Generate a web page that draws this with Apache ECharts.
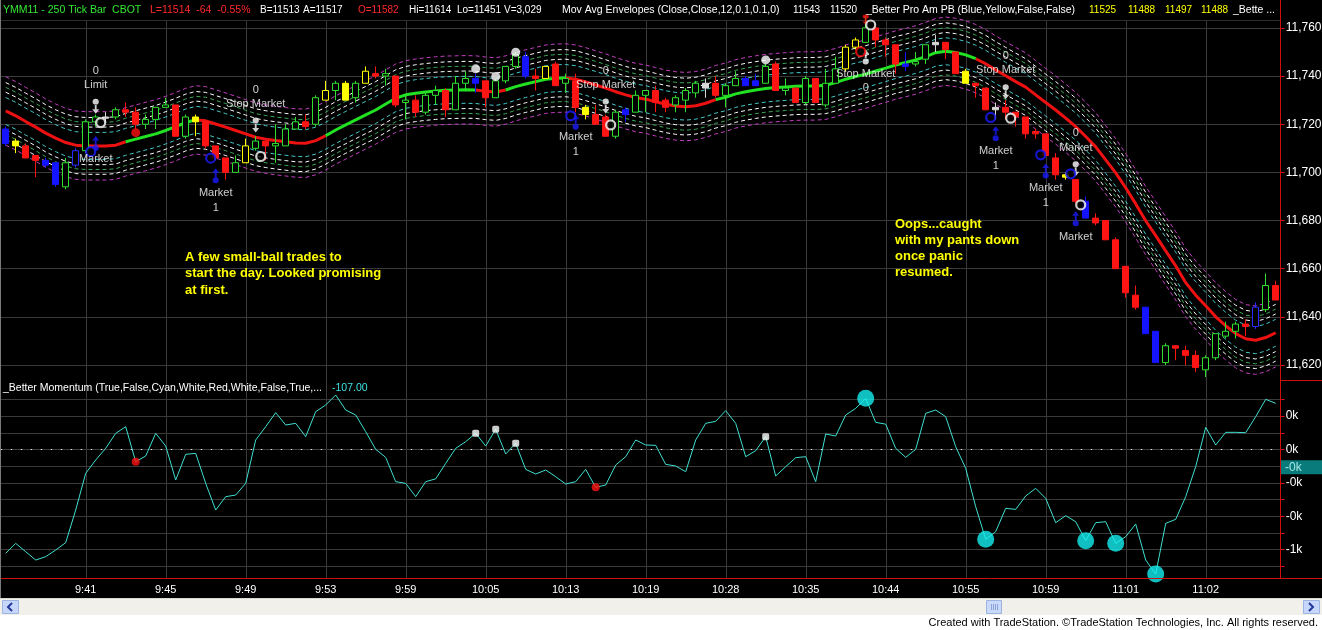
<!DOCTYPE html>
<html>
<head>
<meta charset="utf-8">
<title>YMM11 - 250 Tick Bar</title>
<script src="https://cdn.jsdelivr.net/npm/echarts@6.0.0/dist/echarts.min.js"></script>
<style>
html,body{margin:0;padding:0;background:#000;overflow:hidden;}
#chart{width:1322px;height:630px;}
</style>
</head>
<body>
<div id="chart"></div>
<script>
// ---------------- DATA ----------------
const timeLabels = ['9:41','9:45','9:49','9:53','9:59','10:05','10:13','10:19','10:28','10:35','10:44','10:55','10:59','11:01','11:02'];
const firstLabelBar = 8;
const barsPerLabel = 8;

const opens = [
 11718,11713,11711,11707,11705,11704,11694,11703,11709,11721,
 11723,11723,11726,11725,11720,11722,11727,11728,11715,11723,
 11721,11711,11706,11700,11704,11710,11713,11711,11711,11718,
 11721,11720,11730,11734,11737,11731,11737,11741,11740,11740,
 11729,11730,11725,11732,11734,11726,11737,11739,11738,11731,
 11738,11744,11748,11740,11739,11745,11737,11738,11727,11724,
 11723,11715,11726,11725,11732,11734,11730,11728,11730,11733,
 11737,11737,11732,11736,11739,11738,11737,11745,11734,11735,
 11729,11739,11728,11737,11743,11752,11754,11760,11755,11753,
 11745,11745,11747,11754,11754,11750,11742,11737,11735,11727,
 11727,11725,11723,11717,11716,11706,11699,11697,11688,11681,
 11680,11672,11661,11649,11644,11634,11621,11628,11626,11624,
 11618,11623,11632,11634,11637,11636,11643,11653];
const closes = [
 11712,11711,11706,11705,11703,11695,11704,11709,11721,11723,
 11722.5,11726,11725,11720,11722,11727,11728,11715,11723,11721,
 11711,11706,11700,11704,11711,11713,11711,11712,11718,11721,
 11719,11731,11734,11737,11730,11737,11742,11740,11741,11728,
 11730,11725,11732,11734,11726,11737,11739,11737,11731,11738,
 11744,11749,11740,11739,11744,11736,11739,11727,11724,11720,
 11715,11725,11724,11732,11734,11729,11727,11731,11734,11737,
 11735,11732,11736,11739,11736,11736,11744,11734,11735,11729,
 11739,11729,11737,11743,11752,11755,11760,11755,11753,11745,
 11744,11746,11753,11753,11751,11741,11737,11736,11726,11726,
 11725,11723,11716,11716,11707,11699,11698,11688,11681,11679,
 11672,11660,11650,11644,11633,11621,11628,11627,11624,11619,
 11623,11633,11634,11637,11636,11644,11653,11647];
const lows = [
 11711,11708,11706,11698,11702,11694,11693,11702,11708,11719,
 11721,11722,11723,11718,11718,11718,11727,11715,11714,11715,
 11710,11705,11697,11700,11704,11709,11705,11704,11711,11718,
 11718,11719,11730,11730,11730,11729,11737,11739,11736,11727,
 11722,11723,11724,11728,11723,11726,11734,11733,11727,11731,
 11737,11743,11739,11734,11739,11736,11733,11725,11722,11720,
 11715,11714,11721,11725,11725,11725,11725,11725,11725,11731,
 11731,11731,11727,11736,11736,11736,11737,11734,11732,11729,
 11728,11729,11727,11737,11742,11751,11754,11752,11748,11741,
 11742,11744,11745,11750,11747,11741,11737,11731,11726,11722,
 11722,11719,11714,11714,11707,11697,11697,11687,11681,11678,
 11672,11660,11648,11643,11633,11621,11620,11622,11620,11617,
 11615,11622,11631,11631,11632,11635,11642,11647];
const highs = [
 11719,11714,11712,11707,11706,11704,11706,11710,11722,11724,
 11725,11727,11729,11727,11724,11727,11731,11728,11724,11724,
 11721,11711,11706,11707,11714,11715,11713,11720,11720,11723,
 11724,11732,11738,11738,11738,11738,11744,11744,11743,11740,
 11732,11732,11733,11736,11735,11740,11742,11741,11738,11739,
 11744,11750,11750,11743,11744,11746,11741,11741,11728,11728,
 11724,11726,11727,11734,11734,11736,11731,11732,11735,11738,
 11739,11740,11737,11742,11740,11741,11745,11746,11739,11735,
 11740,11739,11743,11748,11753,11756,11765,11760,11756,11753,
 11750,11750,11753,11757,11754,11750,11743,11737,11735,11729,
 11730,11725,11723,11718,11716,11708,11700,11697,11690,11683,
 11680,11673,11661,11653,11644,11634,11629,11628,11628,11626,
 11624,11633,11638,11638,11639,11646,11658,11655];
// paint-bar class of each bar: g up, r down, b blue, bh blue hollow, y yellow, yh yellow hollow, w neutral cross
const paint = (
 'b y r r b b g bh g g ' +
 'w g r r g g g r g y ' +
 'r r r g yh g r g g g ' +
 'r g yh g y g yh r g r ' +
 'g r g g r g g b r g ' +
 'g g b r yh r g r y r ' +
 'r g b g g r r g g g ' +
 'w r g g b b g r g r ' +
 'g r g g yh yh g r r r ' +
 'b g g w r r y r r w ' +
 'r r r r r r y r b r ' +
 'r r r r b b g r r r ' +
 'g g g g r bh g r').split(' ');

const maLine = [
 11725.5,11723.5,11721.1,11718.8,11716.3,11714.2,11712.4,11711.3,11711.0,11711.0,
 11711.0,11711.3,11712.7,11713.8,11714.9,11716.0,11717.4,11719.0,11720.7,11721.8,
 11721.4,11720.1,11718.8,11717.4,11716.0,11714.6,11713.8,11713.2,11712.7,11712.2,
 11712.1,11713.2,11715.2,11717.6,11719.7,11721.8,11723.9,11725.9,11728.4,11730.8,
 11732.2,11732.9,11733.4,11733.8,11734.1,11734.2,11734.3,11734.2,11733.7,11733.4,
 11734.2,11735.6,11736.7,11737.7,11738.7,11739.1,11739.2,11738.7,11737.6,11736.3,
 11735.0,11733.5,11732.2,11731.1,11730.4,11729.3,11728.3,11727.6,11727.3,11727.7,
 11728.7,11730.2,11731.2,11732.6,11733.5,11734.2,11734.8,11735.2,11735.5,11735.8,
 11735.9,11735.9,11736.2,11737.3,11738.7,11739.8,11740.8,11742.1,11743.3,11744.6,
 11745.6,11746.7,11748.1,11749.7,11750.3,11749.8,11748.8,11747.2,11745.1,11742.5,
 11740.1,11737.7,11735.4,11732.2,11729.0,11725.9,11722.5,11719.0,11714.9,11710.6,
 11705.2,11699.8,11693.6,11686.9,11679.9,11673.7,11667.4,11661.2,11654.2,11649.0,
 11644.6,11640.0,11636.3,11633.0,11630.9,11630.3,11631.4,11633.4];
const maGreenRanges = [[12,19],[32,47],[50,56],[71,97]];
const envOffsets = [5.6, 7.8, 9.8, 11.8, 14.2];

const momentum = [
 -623,-563,-613,-663,-643,-603,-559,-363,-143,-63,
 7,97,137,-73,-39,97,21,-183,-29,-23,
 -203,-363,-283,-273,-203,57,137,221,147,157,
 77,227,267,327,237,207,107,1,-47,-193,
 -203,-283,-193,-176,-83,7,47,97,21,121,
 -27,37,-119,-147,-123,-163,-207,-193,-119,-227,
 -213,-93,-43,57,27,25,-89,-99,-133,57,
 157,169,233,157,-43,-7,77,-159,-103,-49,
 -43,-193,93,81,207,247,307,163,152,7,
 -47,1,217,237,197,17,-113,-343,-539,-493,
 -353,-359,-279,-233,-293,-439,-397,-433,-547,-439,
 -433,-563,-523,-447,-663,-747,-443,-419,-283,-103,
 133,27,103,103,101,197,301,277];
const momCurrent = -107;
const momLabelValues = [200, 0, -200, -400, -600];
const momWhiteDots = [47, 49, 51, 76];
const momRedDots = [13, 59];
const momCyanDots = [86, 98, 108, 111, 115];

const priceWhiteDots = [[47,11743],[49,11739.8],[51,11749.9],[76,11746.7]];
const priceRedDots = [[13,11716.5]];
const entryPins = [[9,11712.0],[21,11698.6],[57,11720.8],[99,11716.0],[104,11700.6],[107,11680.7]];
const exitPins = [[9,11727.5],[25,11719.7],[60,11727.6],[100,11733.5],[107,11701.5]];
const coverPins = [[86,11747.9]];
const shortPins = [[86,11763.5]];
const entryRings = [[9,11708.6],[21,11705.9],[57,11723.5],[99,11722.8],[104,11707.3],[107,11699.4]];
const exitRings = [[9,11720.7],[25,11706.6],[60,11719.7],[86,11761.2],[100,11722.5],[107,11686.5]];
const shortRings = [[86,11750.1]];
const tradeTexts = [
 [9,11742.1,'0'],[9,11736.3,'Limit'],[9,11705.6,'Market'],
 [25,11734.2,'0'],[25,11728.4,'Stop Market'],
 [21,11691.5,'Market'],[21,11685.3,'1'],
 [60,11742.1,'0'],[60,11736.3,'Stop Market'],
 [57,11714.7,'Market'],[57,11708.5,'1'],
 [86,11740.9,'Stop Market'],[86,11735.1,'0'],
 [100,11748.4,'0'],[100,11742.5,'Stop Market'],
 [99,11708.9,'Market'],[99,11702.7,'1'],
 [104,11693.6,'Market'],[104,11687.4,'1'],
 [107,11716.4,'0'],[107,11710.2,'Market'],
 [107,11673.2,'Market']
];
const headerParts = [
 ['YMM11 - 250 Tick Bar  CBOT','green'],['L=11514  -64  -0.55%','red'],['B=11513','white'],['A=11517','white'],
 ['O=11582','red'],['Hi=11614','white'],['Lo=11451','white'],['V=3,029','white'],
 ['Mov Avg Envelopes (Close,Close,12,0.1,0.1,0)','white'],['11543','white'],['11520','white'],
 ['_Better Pro Am PB (Blue,Yellow,False,False)','white'],['11525','yellow'],['11488','yellow'],['11497','yellow'],['11488','yellow'],
 ['_Bette ...','white']
];
const momTitle = '_Better Momentum (True,False,Cyan,White,Red,White,False,True,...';
const momTitleValue = '-107.00';
const noteLeft = ['A few small-ball trades to','start the day. Looked promising','at first.'];
const noteRight = ['Oops...caught','with my pants down','once panic','resumed.'];
const footer = 'Created with TradeStation. \u00A9TradeStation Technologies, Inc. All rights reserved.';

// ---------------- STYLE / LAYOUT ----------------
const FONT = '"Liberation Sans", Arial, Helvetica, sans-serif';
const headerX = [3,150,260,303,358,409,457,504,562,793,830,866,1089,1128,1165,1201,1233];
const headerSize = [10.5,10.5,10,10,10,10,10,10,10.5,10,10,10.5,10,10,10,10,10.5];
const headerColors = {green:'#35e835', red:'#ff2a2a', white:'#ffffff', yellow:'#ffff00'};
const GRIDC = '#3a3a3a';
const paintStyles = {
  g:  {color:'#000000', color0:'#000000', borderColor:'#2fe02f', borderColor0:'#2fe02f'},
  r:  {color:'#ff1414', color0:'#ff1414', borderColor:'#ff1414', borderColor0:'#ff1414'},
  b:  {color:'#1414ff', color0:'#1414ff', borderColor:'#1414ff', borderColor0:'#1414ff'},
  bh: {color:'#000000', color0:'#000000', borderColor:'#2a2aff', borderColor0:'#2a2aff'},
  y:  {color:'#ffff00', color0:'#ffff00', borderColor:'#ffff00', borderColor0:'#ffff00'},
  yh: {color:'#000000', color0:'#000000', borderColor:'#ffff00', borderColor0:'#ffff00'},
  w:  {color:'#d8d8d8', color0:'#d8d8d8', borderColor:'#d8d8d8', borderColor0:'#d8d8d8'}
};
const envColors = ['#45c9c9','#ffffff','#3aa856','#ffffff','#c23fc2'];
const PIN_UP = 'path://M5,0L9.5,6L6.2,6L6.2,12.5L3.8,12.5L3.8,6L0.5,6Z M1,16A4,4,0,1,0,9,16A4,4,0,1,0,1,16Z';
const PIN_DOWN = 'path://M1,4A4,4,0,1,0,9,4A4,4,0,1,0,1,4Z M3.8,7.5L6.2,7.5L6.2,14L9.5,14L5,20L0.5,14L3.8,14Z';

const cats = opens.map((_, i) => String(i));
const isLabelBar = i => i >= firstLabelBar && (i - firstLabelBar) % barsPerLabel === 0;
const fmtK = v => (v < 0 ? '-' + Math.round(-v / 1000) : String(Math.round(v / 1000))) + 'k';

const candleData = opens.map((o, i) => ({value: [o, closes[i], lows[i], highs[i]], itemStyle: paintStyles[paint[i]]}));
const inGreen = i => maGreenRanges.some(([a, b]) => i >= a && i <= b);
const insideGreen = i => maGreenRanges.some(([a, b]) => i > a && i < b);
const maGreen = maLine.map((v, i) => inGreen(i) ? v : null);
const maRed = maLine.map((v, i) => insideGreen(i) ? null : v);

const envSeries = [];
envOffsets.forEach((off, k) => {
  [1, -1].forEach(sign => {
    envSeries.push({
      type:'line', xAxisIndex:0, yAxisIndex:0, silent:true, clip:false, z:2,
      data: maLine.map(v => +(v + sign * off).toFixed(2)),
      symbol:'none', lineStyle:{color:envColors[k], width:1, type:[4,3]}, emphasis:{disabled:true}
    });
  });
});

function scatter(data, symbol, size, itemStyle, extra) {
  return Object.assign({
    type:'scatter', xAxisIndex:0, yAxisIndex:0, silent:true, clip:false, z:6,
    data, symbol, symbolSize:size, itemStyle, emphasis:{disabled:true}
  }, extra || {});
}

const option = {
  backgroundColor:'#000000',
  animation:false,
  textStyle:{fontFamily:FONT},
  grid:[
    {left:0.7, right:41.3, top:27.9, bottom:265, containLabel:false, outerBoundsMode:'none'},
    {left:0.7, right:41.3, top:399.5, bottom:63.8, containLabel:false, outerBoundsMode:'none'}
  ],
  xAxis:[
    {type:'category', gridIndex:0, data:cats, boundaryGap:true,
     axisLine:{show:false}, axisTick:{show:false}, axisLabel:{show:false}, splitLine:{show:false}},
    {type:'category', gridIndex:1, data:cats, boundaryGap:true,
     axisLine:{show:false}, axisTick:{show:false}, splitLine:{show:false},
     axisLabel:{show:true, interval:(idx) => isLabelBar(idx), margin:18, color:'#ffffff', fontSize:11, fontFamily:FONT,
       formatter:(val) => { const i = Number(val); return isLabelBar(i) ? timeLabels[(i - firstLabelBar) / barsPerLabel] : ''; }}}
  ],
  yAxis:[
    {type:'value', gridIndex:0, position:'right', min:11620, max:11760, interval:20,
     axisLine:{show:false}, axisTick:{show:true, length:4, lineStyle:{color:'#d01010'}},
     axisLabel:{color:'#ffffff', fontSize:12, margin:5, fontFamily:FONT, formatter:v => v.toLocaleString('en-US')},
     splitLine:{show:true, lineStyle:{color:GRIDC, width:1}}},
    {type:'value', gridIndex:1, position:'right', min:-700, max:300, interval:100,
     axisLine:{show:false}, axisTick:{show:true, length:4, lineStyle:{color:'#d01010'}},
     axisLabel:{color:'#ffffff', fontSize:12, margin:5, fontFamily:FONT,
       formatter:v => momLabelValues.includes(v) ? fmtK(v) : ''},
     splitLine:{show:true, lineStyle:{color:GRIDC, width:1}}}
  ],
  series:[
    ...envSeries,
    {type:'line', xAxisIndex:0, yAxisIndex:0, data:maRed, symbol:'none', silent:true, clip:false, z:3,
     connectNulls:false, lineStyle:{color:'#ee1111', width:3}, emphasis:{disabled:true}},
    {type:'line', xAxisIndex:0, yAxisIndex:0, data:maGreen, symbol:'none', silent:true, clip:false, z:3,
     connectNulls:false, lineStyle:{color:'#22e022', width:3}, emphasis:{disabled:true}},
    {type:'candlestick', xAxisIndex:0, yAxisIndex:0, data:candleData, barWidth:7, clip:false, silent:true, z:4,
     itemStyle:{borderWidth:1}, emphasis:{disabled:true}},
    scatter(priceWhiteDots, 'circle', 9, {color:'#ffffff'}),
    scatter(priceRedDots, 'circle', 9, {color:'#ff1010'}),
    scatter(entryPins, PIN_UP, [7,15], {color:'#1a1aff'}),
    scatter(exitPins, PIN_DOWN, [7,15], {color:'#ffffff'}),
    scatter(coverPins, PIN_UP, [7,15], {color:'#ffffff'}),
    scatter(shortPins, PIN_DOWN, [7,10], {color:'#ff1010'}),
    scatter(entryRings, 'circle', 9, {color:'#000000', borderColor:'#1a1aff', borderWidth:2.2}, {symbolOffset:[-5,0]}),
    scatter(exitRings, 'circle', 9, {color:'#000000', borderColor:'#ffffff', borderWidth:2.2}, {symbolOffset:[5,0]}),
    scatter(shortRings, 'circle', 9, {color:'#000000', borderColor:'#ff1010', borderWidth:2.2}, {symbolOffset:[-5,0]}),
    scatter(tradeTexts.map(t => [t[0], t[1], t[2]]), 'circle', 1, {color:'rgba(0,0,0,0)'},
      {z:7, label:{show:true, position:'inside', formatter:p => p.data[2], color:'#ffffff', fontSize:11, fontFamily:FONT}}),
    {type:'line', xAxisIndex:1, yAxisIndex:1, data:momentum, symbol:'none', silent:true, clip:false, z:3,
     lineStyle:{color:'#3fe0d0', width:1}, emphasis:{disabled:true},
     markLine:{silent:true, symbol:['none','none'], animation:false, data:[
       {yAxis:0, lineStyle:{color:'#e8e8e8', type:[1.5,8.5], width:1.2}, label:{show:false}}
     ]}},
    scatter(momWhiteDots.map(i => [i, momentum[i]]), 'roundRect', 7, {color:'#ffffff'}, {xAxisIndex:1, yAxisIndex:1}),
    scatter(momRedDots.map(i => [i, momentum[i]]), 'circle', 8, {color:'#ff1010'}, {xAxisIndex:1, yAxisIndex:1}),
    scatter(momCyanDots.map(i => [i, momentum[i]]), 'circle', 17, {color:'#14f0f0'}, {xAxisIndex:1, yAxisIndex:1})
  ]
};

const chart = echarts.init(document.getElementById('chart'), null, {renderer:'canvas', width:1322, height:630});
chart.setOption(option);

// ---------------- GRAPHIC (frame, texts, scrollbar) ----------------
function gl(x1, y1, x2, y2, stroke, z, lw) {
  return {type:'line', silent:true, z:z, shape:{x1, y1, x2, y2}, style:{stroke, lineWidth:lw || 1}};
}
function gr(x, y, w, h, fill, stroke, z) {
  return {type:'rect', silent:true, z:z, shape:{x, y, width:w, height:h}, style:{fill, stroke:stroke || null, lineWidth:1}};
}
function gt(x, y, text, fill, size, weight, align, z) {
  return {type:'text', silent:true, z:z || 20, x, y, style:{text, fill, font:(weight || 'normal') + ' ' + (size || 11) + 'px ' + FONT,
    textAlign:align || 'left', align:align || 'left', textVerticalAlign:'middle', verticalAlign:'middle'}};
}
const g = [];
// vertical grid lines at labelled bars, positioned by the category axis
cats.forEach((c, i) => {
  if (isLabelBar(i)) {
    const x = Math.round(chart.convertToPixel({xAxisIndex:0}, i)) + 0.5;
    g.push(gl(x, 20, x, 578, GRIDC, 0));
  }
});
g.push(gl(0, 20.5, 1280, 20.5, '#2c2c2c', 0));
// red frame
g.push(gl(1280.5, 0, 1280.5, 578.5, '#d01010', 10));
g.push(gl(0, 578.5, 1322, 578.5, '#d01010', 10));
g.push(gl(1280, 380.5, 1322, 380.5, '#d01010', 10));
g.push(gl(0.5, 0, 0.5, 598, '#7a7a7a', 10));
// current momentum value marker on the momentum axis
const yCur = chart.convertToPixel({yAxisIndex:1}, momCurrent);
g.push(gr(1281, yCur - 7, 41, 14, '#0a7b7b', null, 15));
g.push(gt(1285, yCur, fmtK(momCurrent), '#a8e6e6', 12, 'normal', 'left', 16));
// header
headerParts.forEach((p, k) => g.push(gt(headerX[k], 10, p[0], headerColors[p[1]], headerSize[k])));
// momentum title
g.push(gt(3, 388, momTitle, '#ffffff', 10.5));
g.push(gt(332, 388, momTitleValue, '#40e0e0', 10.5));
// notes
noteLeft.forEach((s, k) => g.push(gt(185, 257 + k * 16.5, s, '#ffff00', 13, 'bold')));
noteRight.forEach((s, k) => g.push(gt(895, 224 + k * 16, s, '#ffff00', 13, 'bold')));
// scrollbar
g.push(gr(0, 598, 1322, 17, '#f1f0ea', null, 10));
g.push(gl(0, 598.5, 1322, 598.5, '#d8d8d0', 11));
g.push(gr(2.5, 600.5, 16, 13, '#c6d7fb', '#9db4e0', 11));
g.push({type:'polyline', silent:true, z:12, shape:{points:[[12,603],[8,607],[12,611]]}, style:{stroke:'#23379a', lineWidth:2, fill:null}});
g.push(gr(1303.5, 600.5, 16, 13, '#c6d7fb', '#9db4e0', 11));
g.push({type:'polyline', silent:true, z:12, shape:{points:[[1309,603],[1313,607],[1309,611]]}, style:{stroke:'#23379a', lineWidth:2, fill:null}});
g.push(gr(986.5, 600.5, 15, 13, '#c9d9fb', '#9db4e0', 11));
[991.5, 993.5, 995.5, 997.5].forEach(x => g.push(gl(x, 604, x, 610, '#8aa4d8', 12)));
// footer
g.push(gr(0, 615, 1322, 15, '#ffffff', null, 10));
g.push(gt(1318, 623, footer, '#000000', 11, 'normal', 'right', 12));

chart.setOption({graphic:{elements:g}});
</script>
</body>
</html>
